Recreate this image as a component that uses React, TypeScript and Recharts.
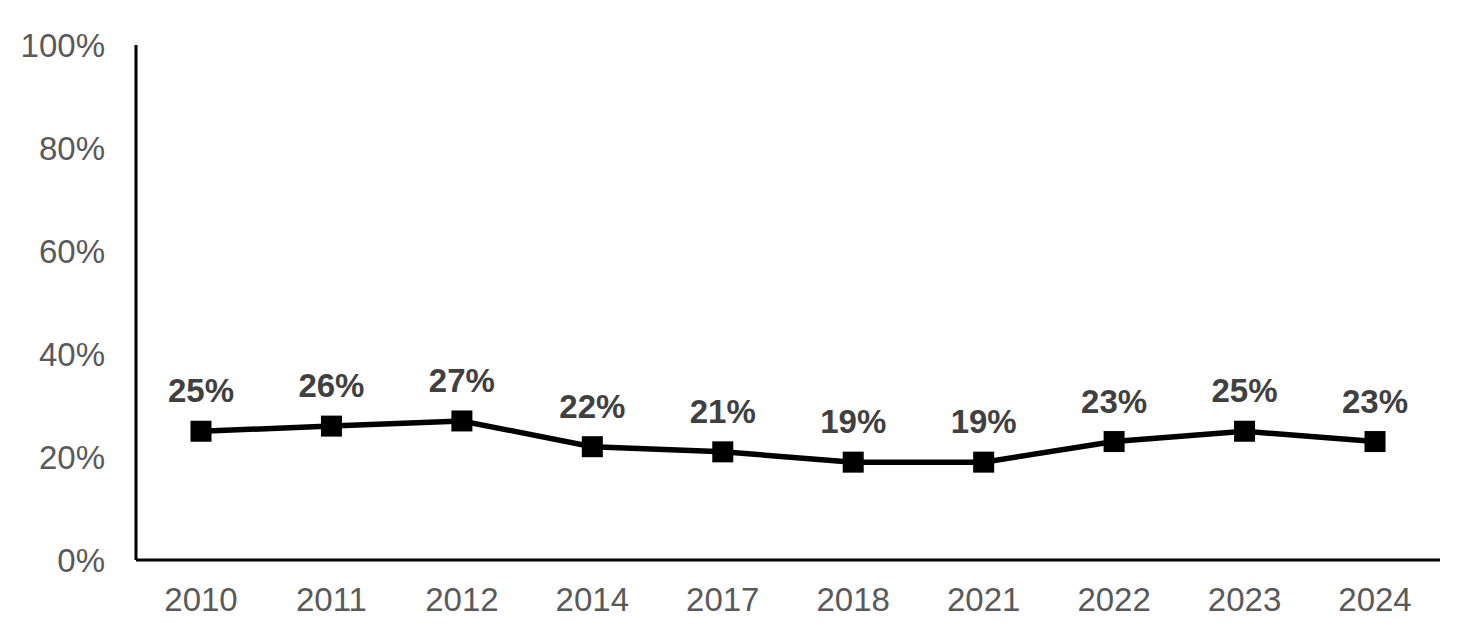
import React from "react";
import { LineChart, Line, XAxis, YAxis } from "recharts";

const years = ["2010", "2011", "2012", "2014", "2017", "2018", "2021", "2022", "2023", "2024"];
const shares = [25, 26, 27, 22, 21, 19, 19, 23, 25, 23];
const yTicks = [0, 20, 40, 60, 80, 100];

const data = years.map((year, i) => ({ year, share: shares[i] }));

const FONT = "Liberation Sans, Arial, sans-serif";

function SquareDot(props: any) {
  const { cx, cy, index } = props;
  if (cx == null || cy == null) return null;
  return <rect key={`dot-${index}`} x={cx - 10.5} y={cy - 10.5} width={21} height={21} fill="#000000" />;
}

function ValueLabel(props: any) {
  const { x, y, value, index } = props;
  return (
    <text
      key={`label-${index}`}
      x={x}
      y={y - 29}
      textAnchor="middle"
      fontFamily={FONT}
      fontSize={33}
      fontWeight="bold"
      fill="#404040"
    >
      {`${value}%`}
    </text>
  );
}

export default function App() {
  return (
    <div style={{ position: "absolute", left: 0, top: 0, width: 1468, height: 634, background: "#fff" }}>
      <LineChart width={1468} height={634} data={data} margin={{ top: 45, right: 28, bottom: 0, left: 0 }}>
        <XAxis
          dataKey="year"
          height={74}
          padding={{ left: 65, right: 65 }}
          axisLine={{ stroke: "#000", strokeWidth: 3 }}
          tickLine={false}
          tickSize={0}
          tickMargin={28}
          tick={{ fill: "#595959", fontSize: 33, fontFamily: FONT }}
          interval={0}
        />
        <YAxis
          width={136}
          domain={[0, 100]}
          ticks={yTicks}
          tickFormatter={(v: number) => `${v}%`}
          axisLine={{ stroke: "#000", strokeWidth: 3 }}
          tickLine={false}
          tickSize={0}
          tickMargin={31}
          tick={{ fill: "#595959", fontSize: 33, fontFamily: FONT }}
          interval={0}
        />
        <Line
          type="linear"
          dataKey="share"
          stroke="#000000"
          strokeWidth={5.5}
          dot={SquareDot}
          activeDot={false}
          label={ValueLabel}
          isAnimationActive={false}
        />
      </LineChart>
    </div>
  );
}
